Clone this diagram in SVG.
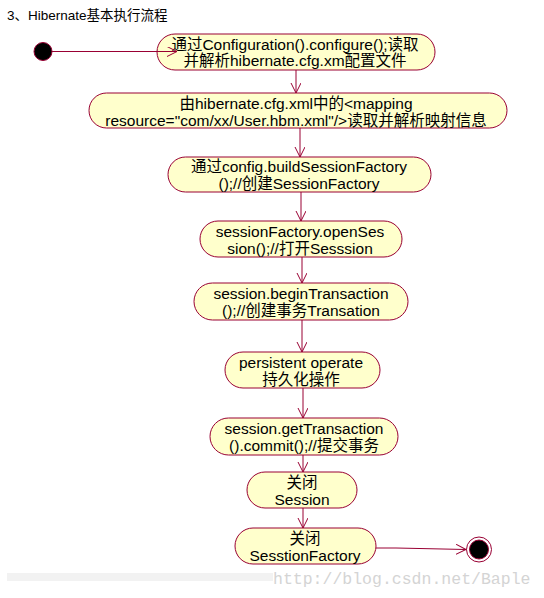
<svg xmlns="http://www.w3.org/2000/svg" width="544" height="598" viewBox="0 0 544 598">
<defs>
<style>
.node{fill:#FFFFCC;stroke:#990033;stroke-width:1}
.t{font-family:"Liberation Sans","Noto Sans CJK SC",sans-serif;font-size:15.5px;fill:#000;text-anchor:middle}
.conn{fill:none;stroke:#990033;stroke-width:1}
</style>
<marker id="arr" markerUnits="userSpaceOnUse" markerWidth="12" markerHeight="12" refX="10" refY="5" orient="auto" viewBox="0 0 12 12">
<path d="M0,0 L10,5 L0,10" fill="none" stroke="#990033" stroke-width="1"/>
</marker>
</defs>
<rect width="544" height="598" fill="#ffffff"/>
<text x="7" y="20" font-family="'Liberation Sans','Noto Sans CJK SC',sans-serif" font-size="13.5" fill="#000">3、Hibernate基本执行流程</text>

<g id="start"><circle cx="43" cy="51.5" r="9" fill="#000" stroke="#990033" stroke-width="1"/></g>

<g id="n1"><rect class="node" x="157" y="34" width="278" height="36" rx="18"/>
<text class="t" x="295" y="50">通过Configuration().configure();读取</text>
<text class="t" x="295" y="66">并解析hibernate.cfg.xm配置文件</text></g>

<g id="n2"><rect class="node" x="89" y="93" width="418" height="35" rx="17.5"/>
<text class="t" x="296" y="109">由hibernate.cfg.xml中的&lt;mapping</text>
<text class="t" x="296" y="126">resource="com/xx/User.hbm.xml"/&gt;读取并解析映射信息</text></g>

<g id="n3"><rect class="node" x="168" y="157" width="263" height="35" rx="17.5"/>
<text class="t" x="299" y="172">通过config.buildSessionFactory</text>
<text class="t" x="299" y="189">();//创建SessionFactory</text></g>

<g id="n4"><rect class="node" x="200" y="221" width="202" height="36" rx="18"/>
<text class="t" x="300" y="237">sessionFactory.openSes</text>
<text class="t" x="300" y="254">sion();//打开Sesssion</text></g>

<g id="n5"><rect class="node" x="194" y="283" width="214" height="37" rx="18.5"/>
<text class="t" x="301" y="299">session.beginTransaction</text>
<text class="t" x="301" y="316">();//创建事务Transation</text></g>

<g id="n6"><rect class="node" x="225" y="352" width="155" height="36" rx="18"/>
<text class="t" x="301" y="368">persistent operate</text>
<text class="t" x="301" y="385">持久化操作</text></g>

<g id="n7"><rect class="node" x="210" y="418" width="188" height="37" rx="18.5"/>
<text class="t" x="304" y="434">session.getTransaction</text>
<text class="t" x="304" y="451">().commit();//提交事务</text></g>

<g id="n8"><rect class="node" x="247" y="472" width="110" height="36" rx="18"/>
<text class="t" x="302" y="488">关闭</text>
<text class="t" x="302" y="505">Session</text></g>

<g id="n9"><rect class="node" x="235" y="528" width="141" height="36" rx="18"/>
<text class="t" x="305" y="544">关闭</text>
<text class="t" x="305" y="561">SesstionFactory</text></g>

<g id="end"><circle cx="479" cy="549.5" r="12.5" fill="#fff" stroke="#990033" stroke-width="1"/>
<circle cx="479" cy="549.5" r="9.5" fill="#000" stroke="#990033" stroke-width="1"/></g>

<g id="connectors">
<path class="conn" marker-end="url(#arr)" d="M52,51.5 L177,51.5"/>
<path class="conn" marker-end="url(#arr)" d="M296,70 L296,93"/>
<path class="conn" marker-end="url(#arr)" d="M300,128 L300,157"/>
<path class="conn" marker-end="url(#arr)" d="M301,192 L301,221"/>
<path class="conn" marker-end="url(#arr)" d="M302,257 L302,283"/>
<path class="conn" marker-end="url(#arr)" d="M302,320 L302,352"/>
<path class="conn" marker-end="url(#arr)" d="M303,388 L303,418"/>
<path class="conn" marker-end="url(#arr)" d="M303,455 L303,472"/>
<path class="conn" marker-end="url(#arr)" d="M303,508 L303,528"/>
<path class="conn" marker-end="url(#arr)" d="M376,548 L396,548 L466,549.5"/>
</g>

<rect x="7" y="573" width="266" height="8" fill="#f2f2f2"/>
<text x="273" y="584" font-family="'Liberation Mono',monospace" font-size="16.5" fill="#d4d4d4">http://blog.csdn.net/Baple</text>
</svg>
